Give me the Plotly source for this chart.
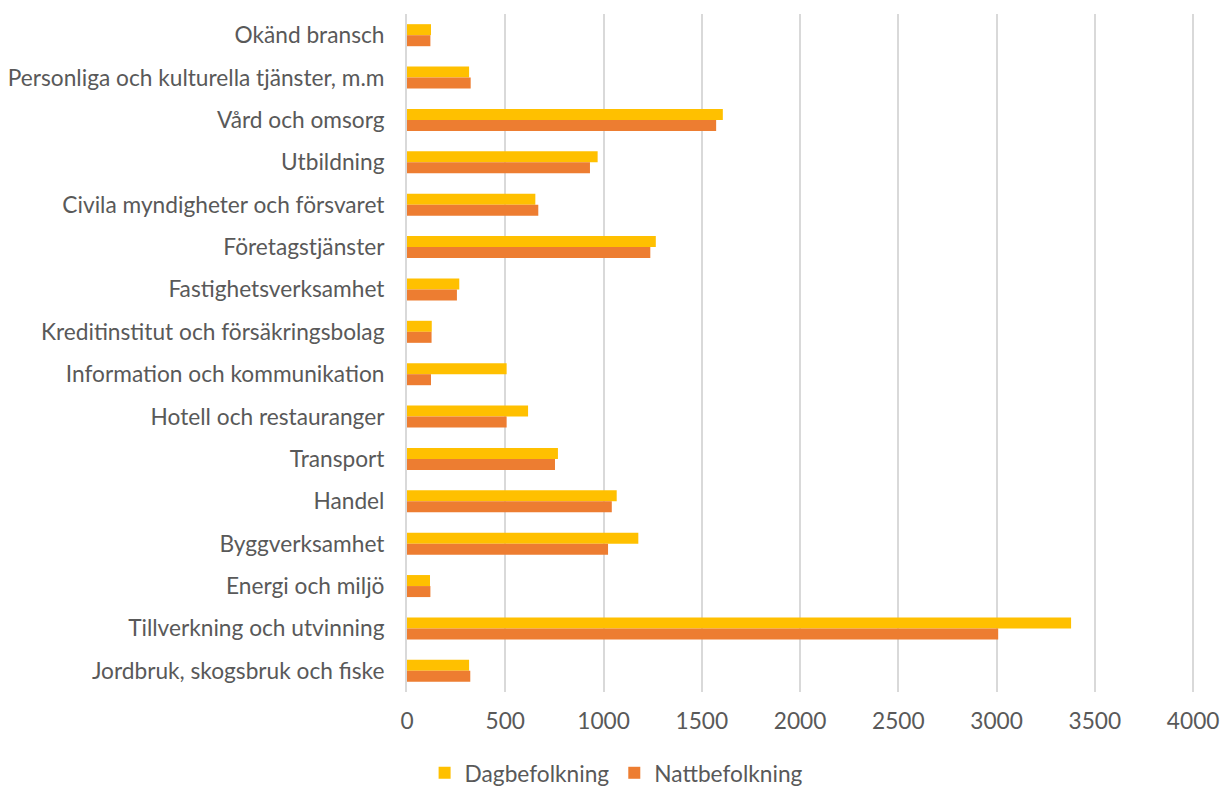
import plotly.graph_objects as go

categories = [
    "Okänd bransch",
    "Personliga och kulturella tjänster, m.m",
    "Vård och omsorg",
    "Utbildning",
    "Civila myndigheter och försvaret",
    "Företagstjänster",
    "Fastighetsverksamhet",
    "Kreditinstitut och försäkringsbolag",
    "Information och kommunikation",
    "Hotell och restauranger",
    "Transport",
    "Handel",
    "Byggverksamhet",
    "Energi och miljö",
    "Tillverkning och utvinning",
    "Jordbruk, skogsbruk och fiske",
]
dagbefolkning = [122, 316, 1607, 970, 653, 1266, 266, 126, 507, 616, 768, 1067, 1177, 117, 3379, 316]
nattbefolkning = [119, 324, 1573, 931, 668, 1238, 254, 125, 122, 507, 753, 1042, 1023, 119, 3008, 322]
x_ticks = [0, 500, 1000, 1500, 2000, 2500, 3000, 3500, 4000]

fig = go.Figure()
fig.add_trace(go.Bar(y=categories, x=dagbefolkning, orientation="h", name="Dagbefolkning",
                     marker=dict(color="#FFC000", line=dict(width=0))))
fig.add_trace(go.Bar(y=categories, x=nattbefolkning, orientation="h", name="Nattbefolkning",
                     marker=dict(color="#ED7D31", line=dict(width=0))))

font_family = "Lato, Open Sans, sans-serif"
fs = 22.7
fig.update_layout(
    barmode="group",
    bargap=0.48,
    bargroupgap=0,
    width=1220, height=787,
    margin=dict(l=407, r=19, t=14, b=95, autoexpand=False),
    plot_bgcolor="white", paper_bgcolor="white",
    font=dict(family=font_family, size=fs, color="#595959"),
    xaxis=dict(range=[0, 4040], tickvals=x_ticks, showgrid=True, gridcolor="#D9D9D9", gridwidth=2,
               zeroline=False, showline=False, ticks="", ticklabelstandoff=13,
               ticklabeloverflow="allow",
               tickfont=dict(size=fs, color="#595959")),
    yaxis=dict(autorange="reversed", showgrid=False, showline=True, linecolor="#D9D9D9", linewidth=2,
               ticks="", ticklabelstandoff=16, tickfont=dict(size=fs, color="#595959")),
    legend=dict(orientation="h", xref="container", x=0.505, xanchor="center",
                y=-0.1195, yanchor="middle",
                font=dict(size=fs, color="#595959"), itemwidth=30, traceorder="normal"),
)
fig.write_html("out.html", config={"displayModeBar": False},
               post_script="document.body.style.margin='0';document.body.style.overflow='hidden';")
